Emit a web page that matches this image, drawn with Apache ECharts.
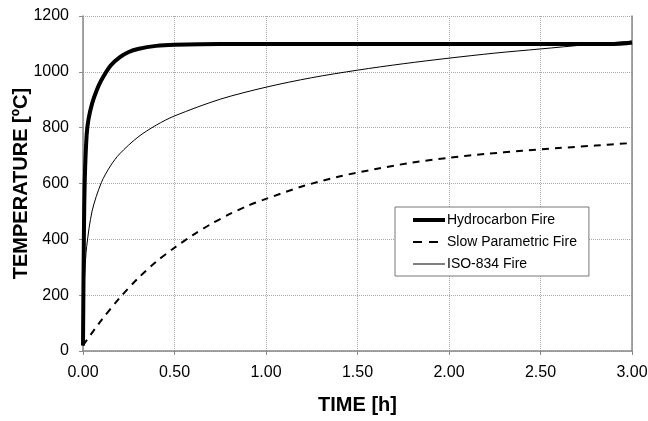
<!DOCTYPE html>
<html>
<head>
<meta charset="utf-8">
<script src="https://cdn.jsdelivr.net/npm/echarts@6/dist/echarts.min.js"></script>
<style>
html, body { margin: 0; padding: 0; background: #fff; }
#chart { width: 648px; height: 421px; }
</style>
</head>
<body>
<div id="chart"></div>
<script>
var chart = echarts.init(document.getElementById('chart'));

// time [h] / temperature [ºC] pairs
var hcTime = [0, 0.005, 0.01, 0.02, 0.03, 0.05, 0.075, 0.1, 0.15, 0.2, 0.25, 0.3, 0.4, 0.5, 0.75, 1.0, 1.5, 2.0, 2.5, 2.9, 2.97, 3.0];
var hcTemp = [20, 420, 620, 775, 830, 887, 934, 970, 1022, 1052, 1071, 1082, 1093, 1097, 1100, 1100, 1100, 1100, 1100, 1100, 1102, 1105];

var slowTime = [0, 0.1, 0.2, 0.3, 0.4, 0.5, 0.6, 0.7, 0.8, 0.9, 1.0, 1.2, 1.4, 1.6, 1.8, 2.0, 2.2, 2.4, 2.6, 2.8, 3.0];
var slowTemp = [20, 110, 190, 260, 320, 370, 415, 455, 490, 520, 545, 590, 625, 652, 675, 692, 706, 717, 727, 736, 745];

var isoTime = [0, 0.005, 0.01, 0.02, 0.05, 0.1, 0.15, 0.2, 0.3, 0.4, 0.5, 0.75, 1.0, 1.25, 1.5, 1.75, 2.0, 2.25, 2.5, 2.75, 3.0];
var isoTemp = [20, 200, 283, 374, 502, 603, 663, 706, 766, 809, 842, 902, 945, 979, 1006, 1029, 1049, 1067, 1082, 1097, 1110];

var xTicks = ['0.00', '0.50', '1.00', '1.50', '2.00', '2.50', '3.00'];
var yTicks = ['0', '200', '400', '600', '800', '1000', '1200'];

function pairs(xs, ys) {
    return xs.map(function (x, i) { return [x, ys[i]]; });
}

var font = 'Liberation Sans, Arial, sans-serif';

var option = {
    animation: false,
    grid: { left: 83, right: 16, top: 16, bottom: 70, outerBoundsMode: 'none', containLabel: false },
    legend: {
        orient: 'vertical',
        left: 395,
        top: 207,
        itemWidth: 32,
        itemHeight: 10,
        itemGap: 8,
        padding: [6, 12, 5, 16],
        borderColor: '#777',
        borderWidth: 1,
        borderRadius: 0,
        backgroundColor: '#fff',
        itemStyle: { opacity: 0 },
        textStyle: { fontFamily: font, fontSize: 14, color: '#000', padding: [0, 0, 0, -3] },
        data: [
            { name: 'Hydrocarbon Fire', lineStyle: { width: 4 } },
            { name: 'Slow Parametric Fire', lineStyle: { width: 2, type: [9, 7] } },
            { name: 'ISO-834 Fire', lineStyle: { width: 1 } }
        ]
    },
    xAxis: {
        type: 'value',
        min: 0,
        max: 3,
        interval: 0.5,
        name: 'TIME [h]',
        nameLocation: 'middle',
        nameGap: 54,
        nameMoveOverlap: false,
        nameTextStyle: {
            fontFamily: font, fontSize: 20, fontWeight: 'bold', color: '#000',
            align: 'center', verticalAlign: 'middle'
        },
        axisLine: { lineStyle: { color: '#888', width: 1.5 } },
        axisTick: { show: true, length: 4, lineStyle: { color: '#888' } },
        axisLabel: {
            fontFamily: font, fontSize: 16, color: '#000', margin: 14,
            formatter: function (v) { return xTicks[Math.round(v / 0.5)]; }
        },
        splitLine: { show: true, lineStyle: { color: '#aaa', type: [1, 1], width: 1 } }
    },
    yAxis: [{
        type: 'value',
        min: 0,
        max: 1200,
        interval: 200,
        name: 'TEMPERATURE [ºC]',
        nameLocation: 'middle',
        nameGap: 62,
        nameMoveOverlap: false,
        nameTextStyle: {
            fontFamily: font, fontSize: 20, fontWeight: 'bold', color: '#000',
            align: 'center', verticalAlign: 'middle'
        },
        axisLine: { show: true, lineStyle: { color: '#888', width: 1.5 } },
        axisTick: { show: true, length: 4, lineStyle: { color: '#888' } },
        axisLabel: {
            fontFamily: font, fontSize: 16, color: '#000', margin: 14,
            formatter: function (v) { return yTicks[Math.round(v / 200)]; }
        },
        splitLine: { show: true, lineStyle: { color: '#aaa', type: [1, 1], width: 1 } }
    }, {
        type: 'value',
        min: 0,
        max: 1200,
        interval: 200,
        position: 'right',
        axisLine: { show: true, lineStyle: { color: '#888', width: 1.5 } },
        axisTick: { show: false },
        axisLabel: { show: false },
        splitLine: { show: false }
    }],
    series: [{
        name: 'Hydrocarbon Fire',
        type: 'line',
        data: pairs(hcTime, hcTemp),
        smooth: 0.3,
        symbol: 'none',
        color: '#000',
        lineStyle: { color: '#000', width: 4 }
    }, {
        name: 'Slow Parametric Fire',
        type: 'line',
        data: pairs(slowTime, slowTemp),
        smooth: 0.3,
        symbol: 'none',
        color: '#000',
        lineStyle: { color: '#000', width: 2, type: [7, 6] }
    }, {
        name: 'ISO-834 Fire',
        type: 'line',
        data: pairs(isoTime, isoTemp),
        smooth: 0.3,
        symbol: 'none',
        color: '#000',
        lineStyle: { color: '#000', width: 1 }
    }]
};

chart.setOption(option);
</script>
</body>
</html>
